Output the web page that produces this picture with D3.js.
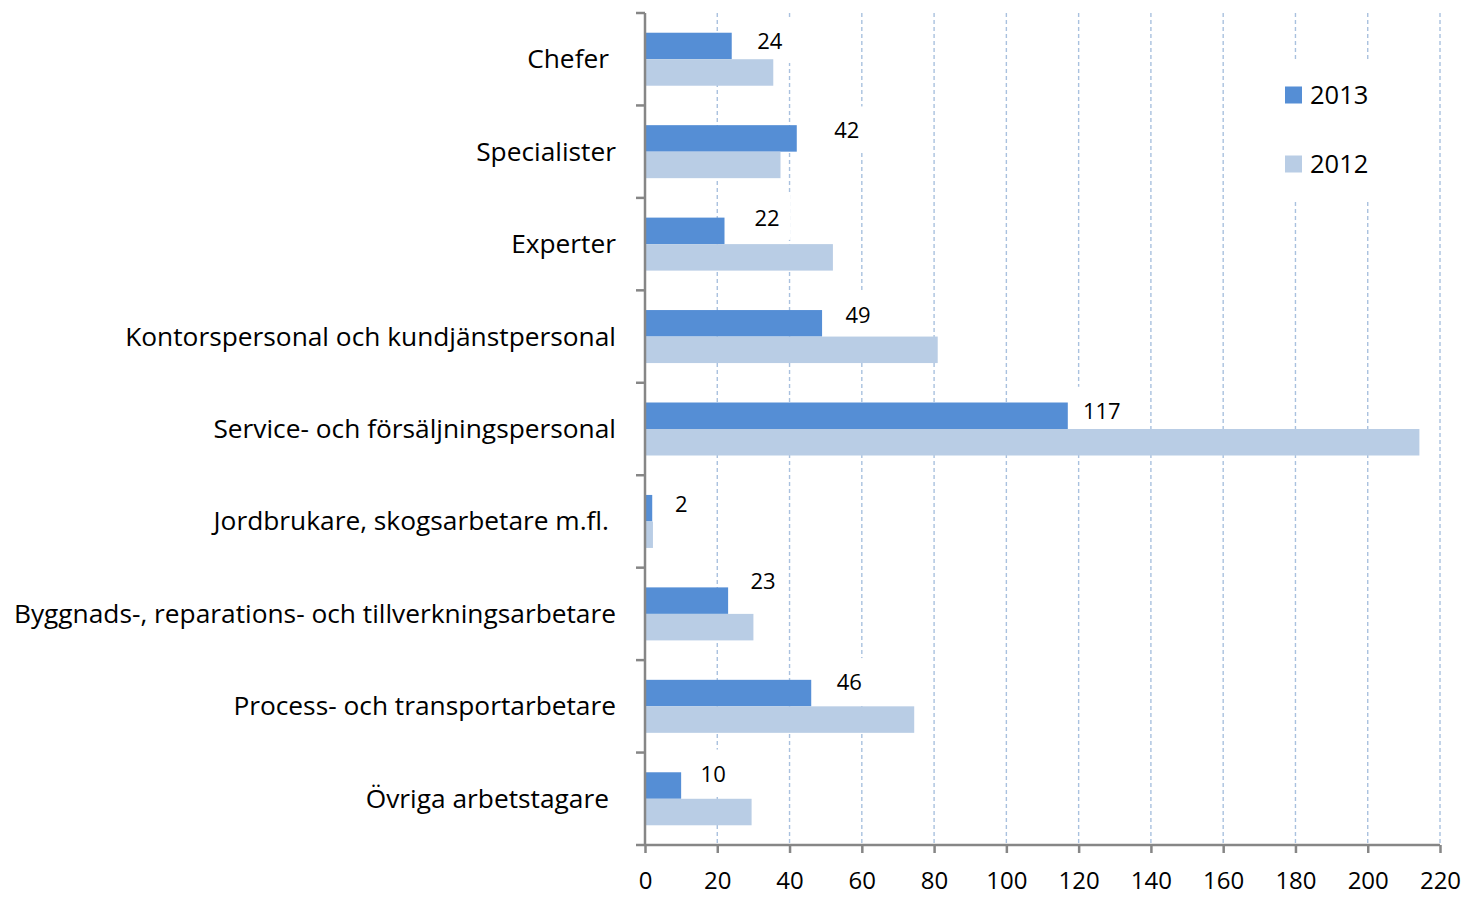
<!DOCTYPE html>
<html>
<head>
<meta charset="utf-8">
<script src="https://cdn.jsdelivr.net/npm/d3@7"></script>
<style>
  html, body { margin: 0; padding: 0; background: #ffffff; }
  svg { display: block; }
  text { font-family: "Open Sans", "Noto Sans", sans-serif; fill: #000; }
</style>
</head>
<body>
<svg id="chart" width="1471" height="897"></svg>
<script>
// ---------------- data ----------------
const categories = [
  "Chefer",
  "Specialister",
  "Experter",
  "Kontorspersonal och kundjänstpersonal",
  "Service- och försäljningspersonal",
  "Jordbrukare, skogsarbetare m.fl.",
  "Byggnads-, reparations- och tillverkningsarbetare",
  "Process- och transportarbetare",
  "Övriga arbetstagare"
];
const seriesNames = ["2013", "2012"];
const values2013 = [24, 42, 22, 49, 117, 2, 23, 46, 10];
const values2012 = [35.5, 37.5, 52, 81, 214.3, 2.2, 30, 74.5, 29.5];
const dataLabels2013 = ["24", "42", "22", "49", "117", "2", "23", "46", "10"];
const xTickValues = [0, 20, 40, 60, 80, 100, 120, 140, 160, 180, 200, 220];

// ---------------- layout / style ----------------
const W = 1471, H = 897;
const plot = { left: 645, right: 1440, top: 13, bottom: 845 };
const colors = { "2013": "#558ed5", "2012": "#b9cde5" };
const axisColor = "#868686";
const gridColor = "#a9c1df";
// category label end-shift (trailing space in source labels)
const catLabelShift = [-7, 0, 0, 0, 0, -7, 0, 0, -7];
// data label offsets relative to bar end / bar centre
const labelDx = [38, 50, 42.5, 36, 34, 29, 35, 38, 32];
const labelDy = [-6, -9, -14, -9, -6, -5, -21, -12, -13];

const svg = d3.select("#chart");

const x = d3.scaleLinear().domain([0, 220]).range([plot.left, plot.right]);
const y = d3.scaleBand().domain(categories).range([plot.top, plot.bottom]).padding(0);
const ySub = d3.scaleBand().domain(seriesNames).range([0, y.step()])
  .paddingInner(0).paddingOuter(0.744);

const rows = categories.map((c, i) => ({
  cat: c, i,
  vals: { "2013": values2013[i], "2012": values2012[i] }
}));

// gridlines
const grid = svg.append("g").attr("class", "grid");
grid.selectAll("line").data(xTickValues.filter(v => v > 0)).join("line")
  .attr("x1", d => x(d)).attr("x2", d => x(d))
  .attr("y1", plot.top).attr("y2", plot.bottom)
  .attr("stroke", gridColor).attr("stroke-width", 1.4)
  .attr("stroke-dasharray", "4,3");

// data label background boxes (occlude gridlines) - drawn below bars
const lblFont = 22;
const boxG = svg.append("g").attr("class", "label-boxes");
const lblG = svg.append("g").attr("class", "labels");
const lblY = d => y(d.cat) + ySub("2013") + ySub.bandwidth() / 2 + labelDy[d.i];
const lblTexts = lblG.selectAll("text").data(rows).join("text")
  .attr("x", d => x(d.vals["2013"]) + labelDx[d.i])
  .attr("y", lblY)
  .attr("text-anchor", "middle")
  .attr("dominant-baseline", "central")
  .attr("font-size", lblFont)
  .text(d => dataLabels2013[d.i]);
lblTexts.each(function(d) {
  const bb = this.getBBox();
  boxG.append("rect")
    .attr("x", bb.x - 11).attr("width", bb.width + 22)
    .attr("y", lblY(d) - 23).attr("height", 46)
    .attr("fill", "#ffffff");
});

// legend box (occludes gridlines)
const legend = svg.append("g").attr("class", "legend");
legend.append("rect").attr("x", 1276).attr("y", 62).attr("width", 106).attr("height", 138)
  .attr("fill", "#ffffff");
seriesNames.forEach((s, k) => {
  const cy = 95 + k * 69;
  legend.append("rect").attr("x", 1285).attr("y", cy - 8.5).attr("width", 17).attr("height", 17)
    .attr("fill", colors[s]);
  legend.append("text").attr("x", 1310).attr("y", cy - 1).attr("dominant-baseline", "central")
    .attr("font-size", 25.5).text(s);
});

// bars
const bars = svg.append("g").attr("class", "bars");
rows.forEach(r => {
  seriesNames.forEach(s => {
    bars.append("rect")
      .attr("x", x(0))
      .attr("y", y(r.cat) + ySub(s))
      .attr("width", x(r.vals[s]) - x(0))
      .attr("height", ySub.bandwidth())
      .attr("fill", colors[s]);
  });
});

// labels above bars
lblG.raise();

// y axis
const yAxisG = svg.append("g").attr("class", "y-axis");
yAxisG.append("line").attr("x1", plot.left).attr("x2", plot.left)
  .attr("y1", plot.top).attr("y2", plot.bottom)
  .attr("stroke", axisColor).attr("stroke-width", 2.5);
const boundaries = categories.map(c => y(c)).concat([plot.bottom]);
yAxisG.selectAll("line.tick").data(boundaries).join("line").attr("class", "tick")
  .attr("x1", plot.left - 9).attr("x2", plot.left)
  .attr("y1", d => d).attr("y2", d => d)
  .attr("stroke", axisColor).attr("stroke-width", 2.5);

// category labels
const catFont = 26.3;
const catG = svg.append("g").attr("class", "cat-labels");
catG.selectAll("text").data(rows).join("text")
  .attr("x", d => 616 + catLabelShift[d.i])
  .attr("y", d => y(d.cat) + y.bandwidth() / 2 - 1)
  .attr("text-anchor", "end")
  .attr("dominant-baseline", "central")
  .attr("font-size", catFont)
  .text(d => d.cat);

// x axis
const xAxis = d3.axisBottom(x).tickValues(xTickValues).tickSize(8).tickPadding(0)
  .tickFormat(d3.format("d"));
const xAxisG = svg.append("g").attr("class", "x-axis")
  .attr("transform", `translate(0,${plot.bottom})`).call(xAxis);
xAxisG.select(".domain").attr("stroke", axisColor).attr("stroke-width", 2.5)
  .attr("d", `M${plot.left},0H${plot.right}`);
xAxisG.selectAll(".tick line").attr("stroke", axisColor).attr("stroke-width", 2.5);
xAxisG.selectAll(".tick text")
  .attr("font-family", "Open Sans, Noto Sans, sans-serif")
  .attr("font-size", 24)
  .attr("y", 44).attr("dy", null)
  .attr("fill", "#000");
</script>
</body>
</html>
